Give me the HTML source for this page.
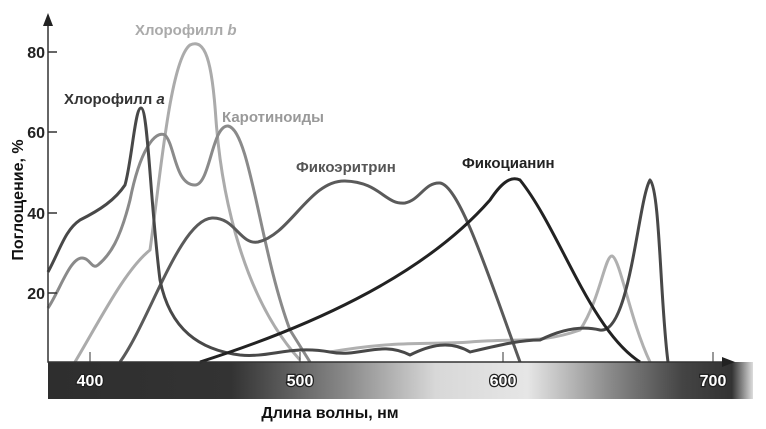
<!DOCTYPE html><html><head><meta charset="utf-8"><style>body{margin:0;background:#fff}svg{display:block;font-family:"Liberation Sans",sans-serif;font-weight:bold}</style></head><body>
<svg width="766" height="429" viewBox="0 0 766 429">
<defs><linearGradient id="g" x1="0" x2="1"><stop offset="0" stop-color="#2e2e2e"/><stop offset="0.26" stop-color="#333"/><stop offset="0.42" stop-color="#888"/><stop offset="0.55" stop-color="#d8d8d8"/><stop offset="0.68" stop-color="#e6e6e6"/><stop offset="0.8" stop-color="#888"/><stop offset="0.9" stop-color="#444"/><stop offset="0.97" stop-color="#333"/><stop offset="1" stop-color="#ddd"/></linearGradient></defs>
<rect x="48" y="362" width="705" height="37" fill="url(#g)"/>
<g fill="none" stroke-width="3" stroke-linejoin="round">
<path d="M75,362 C100,320 125,270 150,250 C160,180 170,60 190,45 C205,38 212,60 216,120 C222,200 245,300 300,360" stroke="#ababab"/>
<path d="M330,352 C400,340 430,345 470,342 C520,338 540,344 580,330 C600,300 605,255 612,256 C620,258 630,320 650,362" stroke="#b0b0b0"/>
<path d="M48,308 C60,290 70,258 82,258 C90,258 92,270 98,265 C110,255 120,240 130,200 C140,150 155,130 165,135 C175,145 175,185 195,185 C210,185 212,125 228,126 C250,130 260,250 290,330 L310,362" stroke="#8a8a8a"/>
<path d="M120,362 C150,320 180,220 212,218 C235,217 240,245 258,242 C290,235 310,180 345,181 C380,182 385,205 405,203 C420,200 425,182 440,183 C460,186 490,280 520,362" stroke="#5a5a5a"/>
<path d="M48,272 C60,250 65,230 80,220 C100,210 115,200 125,185 C132,160 135,108 141,108 C148,108 150,200 160,280 C170,330 200,350 240,355 C270,358 290,345 330,352 C360,358 380,340 410,355 C430,345 450,340 470,352 C500,345 520,340 540,340 C560,330 580,325 600,330 C630,335 638,200 650,180 C660,190 660,300 668,362" stroke="#484848"/>
<path d="M200,362 C300,330 420,280 490,200 C500,185 510,175 520,180 C560,230 590,330 640,362" stroke="#222"/>
</g>
<g stroke="#333" stroke-width="1.5" fill="none"><path d="M48,20 V362 H728"/><path d="M48,52 H57 M48,132 H57 M48,213 H57 M48,293 H57"/><path d="M90,362 V352 M300,362 V352 M503,362 V352 M713,362 V352" stroke-width="1"/></g>
<path d="M48,13 L43,26 L53,26Z M735,362 L722,357 L722,367Z" fill="#222"/>
<g font-size="16" fill="#222" text-anchor="end"><text x="45" y="58">80</text><text x="45" y="138">60</text><text x="45" y="219">40</text><text x="45" y="299">20</text></g>
<g font-size="16" fill="#fff" stroke="#222" stroke-width="2.5" paint-order="stroke" text-anchor="middle"><text x="90" y="386">400</text><text x="300" y="386">500</text><text x="503" y="386">600</text><text x="713" y="386">700</text></g>
<text x="330" y="418" font-size="16" fill="#111" text-anchor="middle">Длина волны, нм</text>
<text transform="translate(23,200) rotate(-90)" font-size="16" fill="#111" text-anchor="middle">Поглощение, %</text>
<g font-size="15"><text x="135" y="35" fill="#aaa">Хлорофилл <tspan font-style="italic">b</tspan></text><text x="64" y="104" fill="#333">Хлорофилл <tspan font-style="italic">a</tspan></text><text x="222" y="122" fill="#999">Каротиноиды</text><text x="296" y="172" fill="#555">Фикоэритрин</text><text x="462" y="168" fill="#222">Фикоцианин</text></g>
</svg></body></html>
